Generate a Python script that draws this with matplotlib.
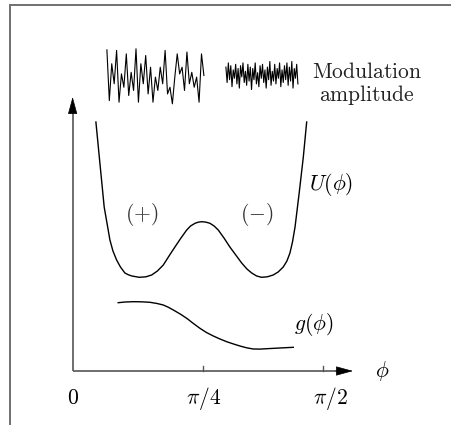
import numpy as np
import matplotlib
matplotlib.use("Agg")
import matplotlib.pyplot as plt
from matplotlib.lines import Line2D

plt.rcParams['mathtext.fontset'] = 'cm'
plt.rcParams['font.family'] = 'serif'

# double-well potential U(phi)
u_phi = [0.146, 0.171, 0.198, 0.234, 0.253, 0.276, 0.300, 0.328, 0.350, 0.372,
         0.418, 0.460, 0.496, 0.532, 0.569, 0.605, 0.642, 0.680, 0.716, 0.740,
         0.768, 0.790, 0.810, 0.836, 0.862, 0.888, 0.914, 0.950, 0.987, 1.024,
         1.061, 1.094, 1.124, 1.155, 1.186, 1.222, 1.259, 1.290, 1.322, 1.345,
         1.364, 1.380, 1.396, 1.422, 1.448, 1.469]
u_val = [2.49, 2.08, 1.64, 1.31, 1.20, 1.11, 1.04, 0.98, 0.962, 0.95,
         0.937, 0.942, 0.96, 1.00, 1.06, 1.15, 1.24, 1.33, 1.41, 1.45,
         1.477, 1.489, 1.493, 1.489, 1.477, 1.45, 1.41, 1.33, 1.24, 1.16,
         1.08, 1.02, 0.98, 0.95, 0.937, 0.942, 0.96, 0.99, 1.04, 1.10,
         1.18, 1.29, 1.44, 1.78, 2.14, 2.49]

# coupling g(phi)
g_phi = [0.286, 0.330, 0.380, 0.430, 0.485, 0.530, 0.569, 0.600, 0.632, 0.675,
         0.716, 0.758, 0.799, 0.840, 0.883, 0.925, 0.967, 1.010, 1.050, 1.092,
         1.134, 1.176, 1.218, 1.301, 1.385]
g_val = [0.683, 0.690, 0.693, 0.692, 0.687, 0.675, 0.660, 0.638, 0.610, 0.570,
         0.527, 0.475, 0.427, 0.385, 0.350, 0.320, 0.293, 0.270, 0.250, 0.232,
         0.220, 0.219, 0.223, 0.230, 0.237]

# modulation noise traces (normalised)
noise_big = [0.96, -0.94, 0.44, -0.31, 0.94, -1.0, 0.06, -0.44, 0.81, -0.75,
             0.12, -0.56, 1.0, -1.0, 0.44, -0.31, 0.75, -0.69, 0.31, -1.0,
             -0.06, -0.56, 0.31, -0.31, 0.94, -0.69, -0.44, -1.06, -0.06, 0.81,
             0.06, 0.31, -0.56, 0.88, -0.31, 0.12, -0.44, -0.06, -1.0, 0.81, 0.0]
noise_small = [0.6, -0.5, 0.9, -0.3, 0.7, -0.8, 0.4, -0.2, 0.8, -0.6,
               0.5, -0.9, 0.7, -0.1, 0.9, -0.5, 0.3, -0.7, 0.8, -0.4,
               0.6, -1.0, 0.5, -0.3, 0.9, -0.6, 0.2, -0.8, 0.7, -0.2,
               0.8, -0.5, 0.4, -0.9, 0.6, -0.3, 1.0, -0.7, 0.3, -0.4,
               0.8, -0.6, 0.5, -0.2, 0.9, -0.8, 0.4, -0.5, 0.7, -0.3,
               0.9, -0.7, 0.6, -0.4, 1.0, -0.9, 0.5, -0.2, 0.8, -0.6]

tick_pos = [0.0, 0.82, 1.571]
tick_labels = [r'$0$', r'$\pi/4$', r'$\pi/2$']

fig = plt.figure(figsize=(4.51, 4.25), dpi=100)
ax = fig.add_axes([0, 0, 1, 1])
ax.set_xlim(-0.456, 2.375)
ax.set_ylim(-0.54, 3.71)
ax.axis('off')

axis_col = '#555555'
fs = 15.5

# axes with arrows
ax.plot([0, 0], [0, 2.6], color=axis_col, lw=1.2, solid_capstyle='butt')
ax.plot([0, 1.67], [0, 0], color=axis_col, lw=1.2, solid_capstyle='butt')
arrow = dict(arrowstyle='-|>,head_length=1.1,head_width=0.3', color='black',
             lw=0.5, shrinkA=0, shrinkB=0, mutation_scale=10)
ax.annotate('', xy=(0, 2.74), xytext=(0, 2.58), arrowprops=arrow)
ax.annotate('', xy=(1.76, 0), xytext=(1.65, 0), arrowprops=arrow)

for t in tick_pos[1:]:
    ax.plot([t, t], [0, 0.05], color=axis_col, lw=1.0)
ax.text(tick_pos[0], -0.27, tick_labels[0], fontsize=fs, ha='center', va='center')
ax.text(tick_pos[1], -0.27, tick_labels[1], fontsize=fs, ha='center', va='center')
ax.text(tick_pos[2] + 0.045, -0.27, tick_labels[2], fontsize=fs, ha='center', va='center')
ax.text(1.94, 0.0, r'$\phi$', fontsize=fs, ha='center', va='center')

# curves
ax.plot(u_phi, u_val, color='black', lw=1.0)
ax.plot(g_phi, g_val, color='black', lw=1.0)
ax.text(1.62, 1.86, r'$U(\phi)$', fontsize=fs, ha='center', va='center')
ax.text(1.515, 0.46, r'$g(\phi)$', fontsize=fs, ha='center', va='center')
ax.text(0.435, 1.56, r'$(+)$', fontsize=fs, ha='center', va='center', color='#333333')
ax.text(1.157, 1.56, r'$(-)$', fontsize=fs, ha='center', va='center', color='#333333')

# noise traces
x1 = np.linspace(0.215, 0.824, len(noise_big))
ax.plot(x1, 2.955 + 0.267 * np.array(noise_big), color='black', lw=0.8)
x2 = np.linspace(0.962, 1.414, len(noise_small))
ax.plot(x2, 2.955 + 0.14 * np.array(noise_small), color='black', lw=0.8)
ax.text(1.85, 2.99, r'$\mathrm{Modulation}$', fontsize=fs, ha='center', va='center', color='#222222')
ax.text(1.85, 2.76, r'$\mathrm{amplitude}$', fontsize=fs, ha='center', va='center', color='#222222')

# partial frame
fig.add_artist(Line2D([10 / 451, 1], [1 - 5 / 425] * 2, transform=fig.transFigure,
                      color='#707070', lw=1.4))
fig.add_artist(Line2D([10 / 451] * 2, [0, 1 - 5 / 425], transform=fig.transFigure,
                      color='#707070', lw=1.4))

fig.savefig('out.png', dpi=100)
